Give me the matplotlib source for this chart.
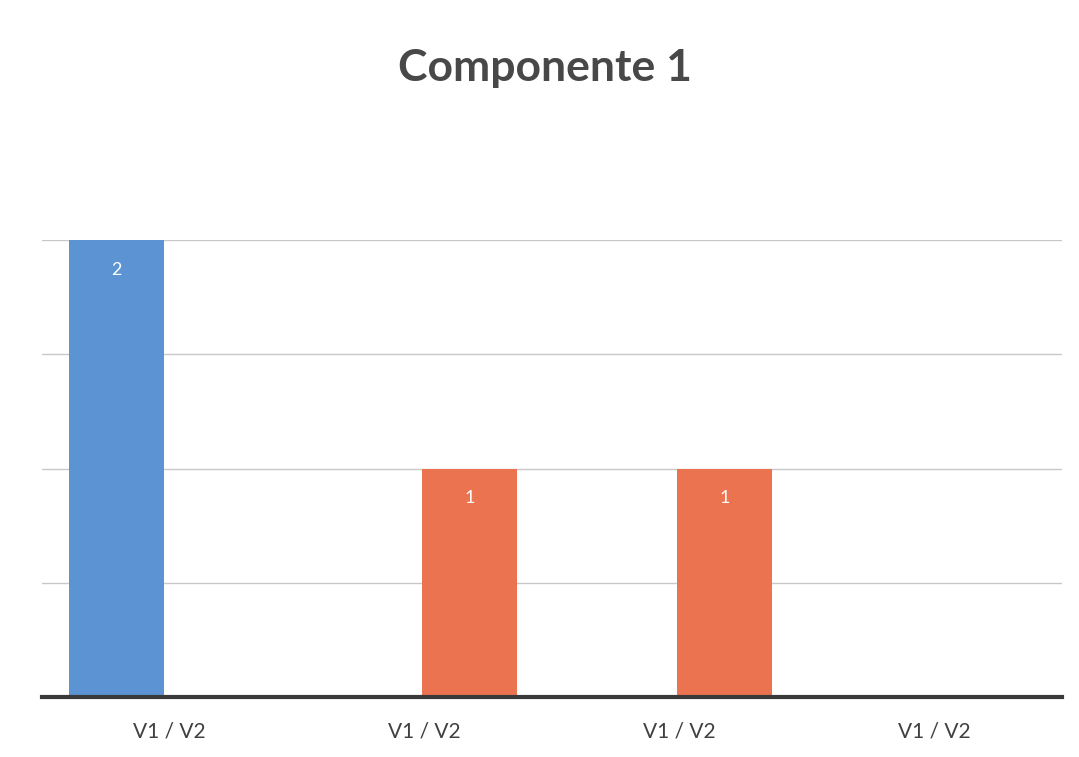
import numpy as np
import matplotlib.pyplot as plt

plt.rcParams['font.family'] = ['Lato', 'DejaVu Sans']

# datos
categorias = ['V1 / V2', 'V1 / V2', 'V1 / V2', 'V1 / V2']
serie_v1 = [2, 0, 0, 0]
serie_v2 = [0, 1, 1, 0]

fig = plt.figure(figsize=(10.79, 7.57), dpi=100)
ax = fig.add_axes([0.039, 0.079, 0.945, 0.604])

x = np.arange(len(categorias))
w = 0.375
b1 = ax.bar(x - w / 2 - 0.02, serie_v1, w, color='#5b93d3', zorder=3)
b2 = ax.bar(x + w / 2 - 0.01, serie_v2, w, color='#ec7350', zorder=3)

# etiquetas de datos solo para valores distintos de cero
for barras in (b1, b2):
    for r in barras:
        h = r.get_height()
        if h > 0:
            ax.text(r.get_x() + r.get_width() / 2, h - 0.13, str(int(h)),
                    ha='center', va='center', color='white', fontsize=13,
                    zorder=4)

ax.set_xlim(-0.5, 3.5)
ax.set_ylim(0, 2)
ax.set_yticks([0.5, 1, 1.5, 2])
ax.yaxis.grid(True, color='#c8c8c8', linewidth=1, zorder=0)
ax.tick_params(left=False, labelleft=False, bottom=False)
ax.set_xticks(x)
ax.set_xticklabels(categorias, fontsize=15, color='#404040')
ax.tick_params(axis='x', pad=14)
for s in ['top', 'right', 'left']:
    ax.spines[s].set_visible(False)
ax.spines['bottom'].set_color('#3a3a3a')
ax.spines['bottom'].set_linewidth(3)
ax.spines['bottom'].set_zorder(5)

fig.text(0.505, 0.91, 'Componente 1', ha='center', va='center',
         fontsize=32, fontweight='bold', color='#484848')

plt.savefig('out.png', dpi=100)
